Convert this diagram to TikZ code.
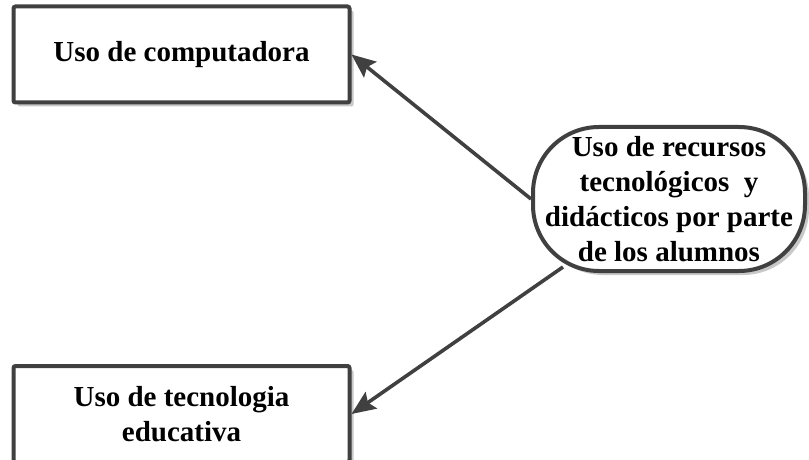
\documentclass[tikz,border=0pt]{standalone}
\usepackage{fontspec}
\setmainfont{Liberation Serif}
\usetikzlibrary{arrows.meta,calc,shadows}
\definecolor{edge}{HTML}{404040}
\definecolor{shade}{HTML}{C8C8C8}

\begin{document}
\begin{tikzpicture}[x=0.5pt,y=-0.5pt,
  box/.style={draw=edge,line width=2pt,fill=white,rounded corners=1pt,
    minimum width=168pt,minimum height=48pt,inner sep=0pt,align=center,
    font=\bfseries\fontsize{14.5}{17.5}\selectfont,
    drop shadow={shadow xshift=2pt,shadow yshift=-2pt,fill=shade,opacity=1}},
  pill/.style={box,rounded corners=33pt,minimum width=136pt,minimum height=72pt},
  arr/.style={-{Stealth[length=12pt,width=10pt,inset=2pt]},line width=1.8pt,draw=edge}]
% frame
\clip (0,0) rectangle (809,460);
% boxes
\node[box] (comp) at (181.5,54.5) {Uso de computadora};
\node[box] (tecno) at (181.5,414) {Uso de tecnologia\\educativa};
\node[pill] (rec) at (669,199) {Uso de recursos\\tecnológicos\ \ y\\didácticos por parte\\de los alumnos};
% arrows
\draw[arr] (rec.west) -- (comp.east);
\draw[arr] ($(rec.south west)+(32,-6)$) -- (tecno.east);
\end{tikzpicture}
\end{document}
